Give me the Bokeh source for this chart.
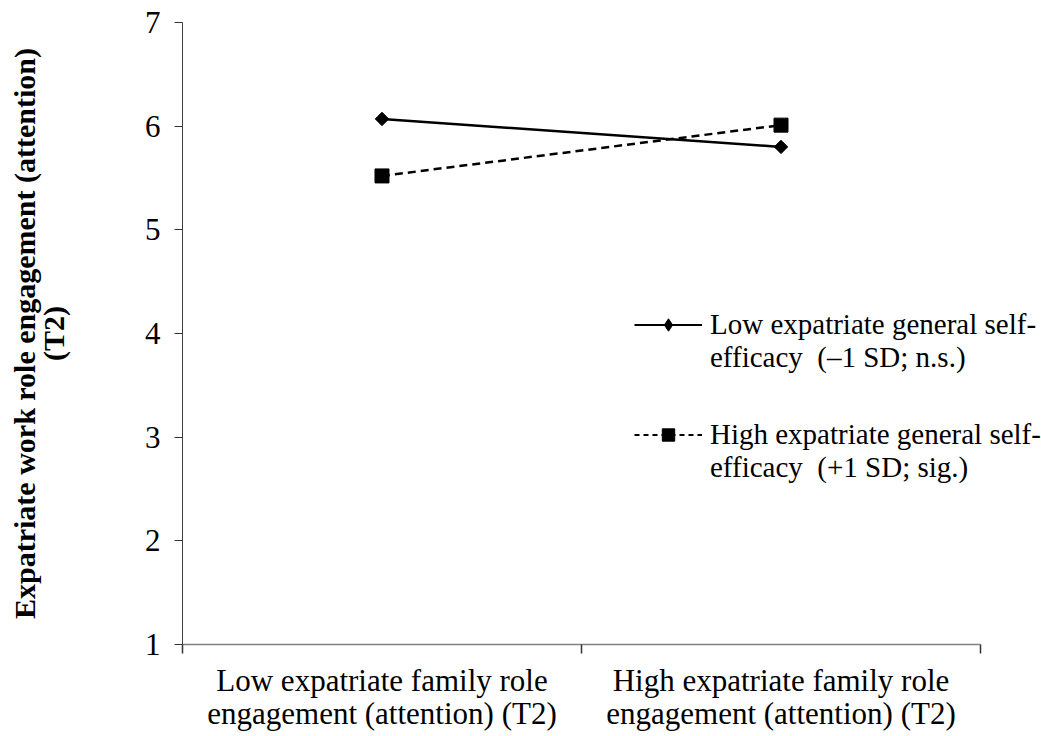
import math
from bokeh.plotting import figure
from bokeh.models import FixedTicker, Legend, LegendItem, Range1d
from bokeh.embed import file_html
from bokeh.resources import INLINE

# ---- data ----
categories = ["Low expatriate family role\nengagement (attention) (T2)",
              "High expatriate family role\nengagement (attention) (T2)"]
low_self_efficacy = [6.07, 5.80]
high_self_efficacy = [5.52, 6.01]
y_ticks = [1, 2, 3, 4, 5, 6, 7]
legend_low = ["Low expatriate general self-", "efficacy  (\u20131 SD; n.s.)"]
legend_high = ["High expatriate general self-", "efficacy  (+1 SD; sig.)"]
y_title = "Expatriate work role engagement (attention)\n(T2)"

FONT = "Liberation Serif"

n = len(categories)
x_pos = [i + 0.5 for i in range(n)]
bounds = list(range(n + 1))

# frame spans to the right edge so the legend text is not clipped; the x axis
# line itself is limited to the category span with axis bounds
AXIS_PX = 798
FRAME_PX = 1041 - 182
x_end = n * FRAME_PX / AXIS_PX

p = figure(width=1041, height=736, output_backend="svg", toolbar_location=None,
           x_range=Range1d(0, x_end), y_range=Range1d(min(y_ticks), max(y_ticks)),
           min_border_left=182, min_border_right=0, min_border_top=22, min_border_bottom=92)
p.outline_line_color = None
p.xgrid.visible = False
p.ygrid.visible = False

# x axis
p.xaxis.bounds = (0, n)
p.xaxis.ticker = FixedTicker(ticks=x_pos, minor_ticks=bounds)
p.xaxis.major_label_overrides = {x_pos[i]: categories[i] for i in range(n)}
p.xaxis.axis_line_color = "#808080"
p.xaxis.axis_line_width = 1.5
p.xaxis.major_tick_line_color = None
p.xaxis.major_tick_out = 0
p.xaxis.major_tick_in = 0
p.xaxis.minor_tick_line_color = "#333333"
p.xaxis.minor_tick_line_width = 1.5
p.xaxis.minor_tick_out = 9
p.xaxis.minor_tick_in = 0
p.xaxis.major_label_standoff = 9
p.xaxis.major_label_text_font = FONT
p.xaxis.major_label_text_font_size = "31px"
p.xaxis.major_label_text_color = "black"
p.xaxis.major_label_text_line_height = 0.95

# y axis
p.yaxis.ticker = FixedTicker(ticks=y_ticks)
p.yaxis.axis_line_color = "#404040"
p.yaxis.axis_line_width = 1
p.yaxis.major_tick_line_color = "#333333"
p.yaxis.major_tick_out = 8
p.yaxis.major_tick_in = 0
p.yaxis.minor_tick_line_color = None
p.yaxis.major_label_standoff = 14
p.yaxis.major_label_text_font = FONT
p.yaxis.major_label_text_font_size = "31px"
p.yaxis.major_label_text_color = "black"
p.yaxis.axis_label = y_title
p.yaxis.axis_label_text_font = FONT
p.yaxis.axis_label_text_font_size = "30px"
p.yaxis.axis_label_text_font_style = "bold"
p.yaxis.axis_label_text_color = "black"
p.yaxis.axis_label_standoff = 72
p.yaxis.axis_label_text_line_height = 0.88

# data series
p.line(x_pos, low_self_efficacy, line_color="black", line_width=2.5)
p.scatter(x_pos, low_self_efficacy, marker="square", angle=math.pi / 4, size=9.5,
          fill_color="black", line_color="black")
p.line(x_pos, high_self_efficacy, line_color="black", line_width=2.5, line_dash="8 5")
p.scatter(x_pos, high_self_efficacy, marker="square", size=14,
          fill_color="black", line_color="black")

# legend-only styled renderers (hidden in the plot area)
lg_low_line = p.line(x_pos, low_self_efficacy, line_color="black", line_width=2.2, visible=False)
lg_low_mk = p.scatter(x_pos, low_self_efficacy, marker="diamond", size=13,
                      fill_color="black", line_color="black", visible=False)
lg_high_line = p.line(x_pos, high_self_efficacy, line_color="black", line_width=2.2,
                      line_dash="5 4", visible=False)
lg_high_mk = p.scatter(x_pos, high_self_efficacy, marker="square", size=14,
                       fill_color="black", line_color="black", visible=False)

# blank renderer for continuation lines of legend labels
blank = p.scatter([], [], size=1, fill_alpha=0, line_alpha=0)


def make_legend(lines, renderers, loc):
    lg = Legend(items=[LegendItem(label=lines[0], renderers=renderers),
                       LegendItem(label=lines[1], renderers=[blank])],
                location=loc, glyph_width=68, glyph_height=31, label_height=31,
                label_standoff=8, spacing=0, padding=0, margin=0,
                border_line_color=None, background_fill_alpha=0,
                label_text_font=FONT, label_text_font_size="29px",
                label_text_color="black")
    p.add_layout(lg, "center")


make_legend(legend_low, [lg_low_line, lg_low_mk], (452, 270))
make_legend(legend_high, [lg_high_line, lg_high_mk], (452, 160))

open("out.html", "w").write(file_html(p, INLINE))
